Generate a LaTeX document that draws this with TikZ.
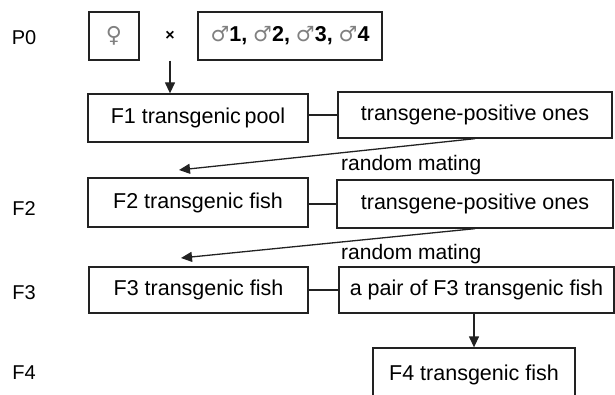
\documentclass[tikz,border=0pt]{standalone}
\usepackage{fontspec}
\setmainfont{Liberation Sans}
\newfontfamily\symfont{DejaVu Sans}
\usetikzlibrary{arrows.meta}
\definecolor{ink}{HTML}{222222}
\definecolor{symgray}{HTML}{808080}
% gray sex symbols
\newcommand{\fem}{{\symfont\fontsize{22}{24}\selectfont\textcolor{symgray}{♀}}}
\newcommand{\mal}{{\symfont\fontsize{21}{24}\selectfont\textcolor{symgray}{♂}}}
\begin{document}
\begin{tikzpicture}[x=1pt,y=-1pt,
  box/.style={draw=ink, line width=1.3pt, inner sep=0pt, anchor=center,
    font=\fontsize{21.5}{24}\selectfont},
  rowlabel/.style={inner sep=0pt, anchor=center, font=\fontsize{20}{24}\selectfont},
  wire/.style={draw=ink, line width=1.3pt},
  arr/.style={wire, -{Triangle[length=11pt,width=10pt]}},
  note/.style={inner sep=0pt, anchor=west, font=\fontsize{21}{24}\selectfont}]
  \useasboundingbox (0,0) rectangle (615,395);
  \clip (0,0) rectangle (615,395);

  % generation labels
  \node[rowlabel] (lP0) at (24,38) {P0};
  \node[rowlabel] (lF2) at (24,209) {F2};
  \node[rowlabel] (lF3) at (24,293) {F3};
  \node[rowlabel] (lF4) at (24,373) {F4};

  % parental cross
  \node[box, minimum width=50, minimum height=48] (femb) at (114,36) {\fem};
  \node[inner sep=0pt, font=\fontsize{16}{20}\selectfont\bfseries] (cross) at (170,36) {×};
  \node[box, minimum width=184, minimum height=48] (males) at (290,36)
    {\mal\textbf{1,} \mal\textbf{2,} \mal\textbf{3,} \mal\textbf{4}};

  % generation boxes
  \node[box, minimum width=220, minimum height=48] (F1) at (198,118) {F1 transgenic\,pool};
  \node[box, minimum width=274, minimum height=46] (T1) at (475,115) {transgene-positive ones};
  \node[box, minimum width=220, minimum height=49] (F2) at (198,202.5) {F2 transgenic fish};
  \node[box, minimum width=276, minimum height=48] (T2) at (475,204) {transgene-positive ones};
  \node[box, minimum width=219, minimum height=46] (F3) at (198.5,290) {F3 transgenic fish};
  \node[box, minimum width=275, minimum height=46] (P3) at (476.5,290) {a pair of F3 transgenic fish};
  \node[box, minimum width=202, minimum height=54] (F4) at (474,375) {F4 transgenic fish};

  % mating notes
  \node[note] (rm1) at (341,165) {random mating};
  \node[note] (rm2) at (341,254) {random mating};

  % arrow tips above the next generation
  \coordinate (in2) at (179,170);
  \coordinate (in3) at (181,258);

  % connectors
  \draw[arr] (cross |- femb.south) -- (cross |- F1.north);
  \draw[wire] (F1.east |- T1.west) -- (T1.west);
  \draw[arr] (T1.south) -- (in2);
  \draw[wire] (F2.east |- T2.west) -- (T2.west);
  \draw[arr] (T2.south) -- (in3);
  \draw[wire] (F3.east) -- (P3.west);
  \draw[arr] (P3.south -| F4.north) -- (F4.north);
\end{tikzpicture}
\end{document}
